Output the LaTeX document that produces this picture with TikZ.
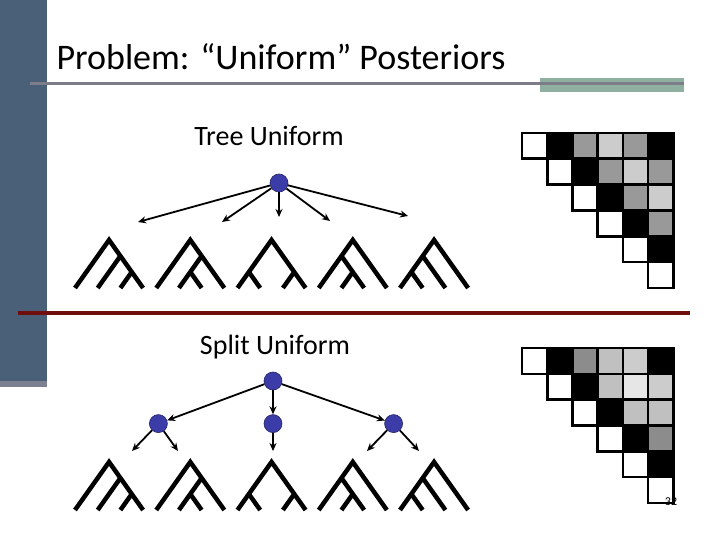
\documentclass[tikz,border=0pt]{standalone}
\usepackage{fontspec}
\setmainfont{Carlito}
\usetikzlibrary{positioning,arrows.meta}
\definecolor{barblue}{RGB}{74,96,120}
\definecolor{barfoot}{RGB}{125,128,145}
\definecolor{rulegray}{RGB}{125,125,138}
\definecolor{rulegreen}{RGB}{143,176,160}
\definecolor{rulered}{RGB}{112,14,14}
\definecolor{nodeblue}{RGB}{60,60,168}
\definecolor{nodeedge}{RGB}{35,35,100}
\definecolor{gmid}{RGB}{153,153,153}
\definecolor{glight}{RGB}{204,204,204}
\definecolor{gdark}{RGB}{140,140,140}
\definecolor{gsilver}{RGB}{192,192,192}
\definecolor{gpale}{RGB}{230,230,230}
\newcommand{\treeshape}[3]{%
  \begin{scope}[shift={(#1,#2)},x=22.7pt,y=32pt]
    \draw[treeline] (0,0) -- (1.5,1.5) -- (3,0) #3;
  \end{scope}}

\begin{document}
\begin{tikzpicture}[x=1pt,y=-1pt,node distance=24pt,>={Stealth[length=8pt,width=7pt]},
    bnode/.style={circle,draw=nodeedge,fill=nodeblue,line width=0.6pt,minimum size=18pt,inner sep=0pt},
    arr/.style={->,line width=1.8pt},
    treeline/.style={line width=4.5pt},
    cell/.style={draw=black,line width=2.6pt},
    lbl/.style={font=\fontsize{28}{32}\selectfont}]
    \useasboundingbox (0,0) rectangle (720,540);
    % slide frame
    \fill[barblue] (0,0) rectangle (47,381);
    \fill[barfoot] (0,381) rectangle (47,387);
    \fill[rulegreen] (540,78) rectangle (684,92);
    \draw[rulegray,line width=3pt] (30,84) -- (684,84);
    \draw[rulered,line width=4pt] (18,313) -- (690,313);
    \node[anchor=west,font=\fontsize{36}{40}\selectfont] (title) at (53,57) {Problem: “Uniform” Posteriors};
    % tree uniform
    \node[lbl] (treelbl) at (269,136) {Tree Uniform};
    \node[bnode] (troot) at (279,183) {};
    \coordinate (ta1) at (138,222);
    \coordinate (ta2) at (222,222);
    \coordinate (ta3) at (279,217);
    \coordinate (ta4) at (330,221);
    \coordinate (ta5) at (408,216);
    \foreach \t in {1,...,5}
      \draw[arr] (troot) -- (ta\t);
    % split uniform
    \node[lbl] (splitlbl) at (275,347) {Split Uniform};
    \node[bnode] (sroot) at (273,381) {};
    \node[bnode,below=of sroot] (smid) {};
    \node[bnode,left=96pt of smid] (sleft) {};
    \node[bnode,right=102pt of smid] (sright) {};
    \draw[arr] (sroot) -- (sleft);
    \draw[arr] (sroot) -- (smid);
    \draw[arr] (sroot) -- (sright);
    \coordinate (sa1) at (132,451);
    \coordinate (sa2) at (178,451);
    \coordinate (sa3) at (273,451);
    \coordinate (sa4) at (367,451);
    \coordinate (sa5) at (419,451);
    \draw[arr] (sleft) -- (sa1);
    \draw[arr] (sleft) -- (sa2);
    \draw[arr] (smid) -- (sa3);
    \draw[arr] (sright) -- (sa4);
    \draw[arr] (sright) -- (sa5);
    % the five 4-leaf shapes, both rows
    \foreach \ry in {288,510}
      \foreach \br [count=\i from 0] in {{(2,1) -- (1,0) (2.5,0.5) -- (2,0)},
          {(2,1) -- (1.5,0.5) -- (1,0) (1.5,0.5) -- (2,0)},
          {(0.5,0.5) -- (1,0) (2.5,0.5) -- (2,0)},
          {(1,1) -- (2,0) (1.5,0.5) -- (1,0)},
          {(1,1) -- (2,0) (0.5,0.5) -- (1,0)}}
        {\treeshape{75+81.25*\i}{\ry}{\br}}
    % pair matrices
    \foreach \r/\cells in {0/{white,black,gmid,glight,gmid,black},1/{white,black,gmid,glight,gmid},
        2/{white,black,gmid,glight},3/{white,black,gmid},4/{white,black},5/{white}}
      \foreach \fc [count=\c from \r] in \cells
        \draw[cell,fill=\fc] (522+25.2*\c,133+25.8*\r) rectangle ++(25.2,25.8);
    \foreach \r/\cells in {0/{white,black,gdark,gsilver,glight,black},1/{white,black,gsilver,gpale,glight},
        2/{white,black,gsilver,gsilver},3/{white,black,gdark},4/{white,black},5/{white}}
      \foreach \fc [count=\c from \r] in \cells
        \draw[cell,fill=\fc] (522+25.2*\c,348+25.8*\r) rectangle ++(25.2,25.8);
    \node[font=\fontsize{12}{14}\selectfont] (pnum) at (671,502) {32};
\end{tikzpicture}
\end{document}
